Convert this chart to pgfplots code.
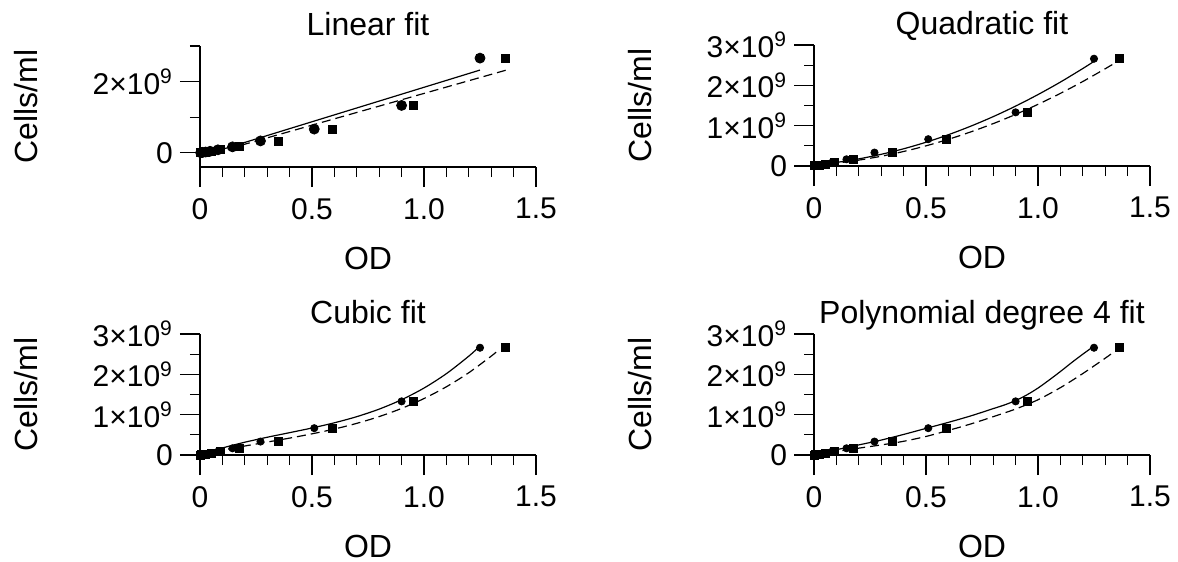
\documentclass[border=0pt]{standalone}
\usepackage{fontspec}
\setmainfont{Liberation Sans}
\usepackage{pgfplots}
\usepackage{pgfplotstable}
\pgfplotsset{compat=1.18}

% cells/ml in units of 10^9
\pgfplotstableread{
od cells
0.003 0.0026
0.006 0.0052
0.012 0.0104
0.025 0.021
0.045 0.042
0.080 0.083
0.145 0.166
0.270 0.333
0.510 0.665
0.900 1.33
1.250 2.66
}\circdata
\pgfplotstableread{
od cells
0.003 0.0026
0.007 0.0052
0.013 0.0104
0.026 0.021
0.050 0.042
0.093 0.083
0.175 0.166
0.350 0.333
0.590 0.665
0.953 1.33
1.365 2.66
}\sqdata

% fitted curves
\pgfplotstableread{
od cells
0.003 -0.091
1.250 2.324
}\linA
\pgfplotstableread{
od cells
0.003 -0.111
1.365 2.319
}\linB
\pgfplotstableread{
od cells
0.003 0.028
0.1 0.089
0.2 0.177
0.3 0.290
0.4 0.427
0.5 0.589
0.6 0.776
0.7 0.988
0.8 1.224
0.9 1.485
1.0 1.771
1.1 2.081
1.2 2.417
1.25 2.594
}\quadA
\pgfplotstableread{
od cells
0.003 0.021
0.1 0.072
0.2 0.146
0.3 0.242
0.4 0.360
0.5 0.500
0.6 0.662
0.7 0.846
0.8 1.051
0.9 1.279
1.0 1.529
1.1 1.801
1.2 2.095
1.3 2.411
1.34 2.543
}\quadB
\pgfplotstableread{
od cells
0.003 0.006
0.1 0.174
0.2 0.317
0.3 0.440
0.4 0.554
0.5 0.670
0.6 0.799
0.7 0.951
0.8 1.138
0.9 1.371
1.0 1.660
1.1 2.017
1.2 2.451
1.25 2.702
}\cubA
\pgfplotstableread{
od cells
0.003 0.004
0.1 0.118
0.2 0.223
0.3 0.321
0.4 0.419
0.5 0.525
0.6 0.644
0.7 0.785
0.8 0.953
0.9 1.155
1.0 1.400
1.1 1.692
1.2 2.040
1.3 2.451
1.33 2.590
}\cubB
\pgfplotstableread{
od cells
0.003 0.004
0.1 0.130
0.2 0.250
0.3 0.370
0.4 0.510
0.5 0.660
0.6 0.810
0.7 0.970
0.8 1.150
0.85 1.240
0.9 1.350
0.95 1.490
1.0 1.660
1.05 1.860
1.1 2.070
1.15 2.290
1.2 2.500
1.25 2.700
}\polA
\pgfplotstableread{
od cells
0.003 0.003
0.1 0.090
0.2 0.170
0.3 0.250
0.4 0.340
0.5 0.460
0.6 0.610
0.7 0.770
0.8 0.950
0.9 1.140
1.0 1.370
1.1 1.670
1.2 2.020
1.3 2.400
1.33 2.520
}\polB

\pgfplotsset{
  every axis title shift=0pt,
  panel/.style={
    scale only axis, width=168pt, height=60.5pt,
    xmin=0, xmax=1.5, ymin=0, ymax=3,
    clip=false,
    axis x line=bottom, axis y line=left,
    axis line style={-, line width=0.65pt},
    tick align=outside,
    major tick length=10pt, minor tick length=5pt,
    every tick/.style={black, line width=0.65pt},
    xtick={0,0.5,1,1.5}, xticklabels={0,0.5,1.0,1.5},
    minor xtick={0.1,0.2,0.3,0.4,0.6,0.7,0.8,0.9,1.1,1.2,1.3,1.4},
    ytick={0,1,2,3},
    yticklabels={0,1×10\textsuperscript{9},2×10\textsuperscript{9},3×10\textsuperscript{9}},
    minor ytick={0.5,1.5,2.5},
    tick label style={font=\fontsize{15}{18}\selectfont},
    xticklabel style={yshift=-2pt},
    xlabel={OD}, ylabel={Cells/ml},
    label style={font=\fontsize{16}{19}\selectfont},
    xlabel style={at={(axis description cs:0.5,-0.76)}, anchor=center},
    ylabel style={at={(axis description cs:-0.518,0.5)}, anchor=center},
    title style={font=\fontsize{16}{19}\selectfont, at={(axis description cs:0.5,1.09)}, anchor=base},
  },
  circ/.style={only marks, mark=*, mark size=1.8pt, black},
  sq/.style={only marks, mark=square*, mark size=2pt, black},
  fitA/.style={no marks, black, line width=0.6pt},
  fitB/.style={no marks, black, line width=0.6pt, dash pattern=on 4.5pt off 2.5pt},
}

\begin{document}
\begin{tikzpicture}
\useasboundingbox (0,0) rectangle (589pt,-281pt);

\begin{axis}[panel, at={(100pt,-83.5pt)}, anchor=south west,
    title={Linear fit}, ymin=-0.4, ytick={0,2},
    yticklabels={0,2×10\textsuperscript{9}}, minor ytick={1,3}]
  \addplot[fitA] table[x=od, y=cells] {\linA};
  \addplot[fitB] table[x=od, y=cells] {\linB};
  \addplot[circ, mark size=2.5pt] table[x=od, y=cells] {\circdata};
  \addplot[sq] table[x=od, y=cells] {\sqdata};
\end{axis}

\begin{axis}[panel, at={(407pt,-83pt)}, anchor=south west, title={Quadratic fit}]
  \addplot[fitA, smooth] table[x=od, y=cells] {\quadA};
  \addplot[fitB, smooth] table[x=od, y=cells] {\quadB};
  \addplot[circ] table[x=od, y=cells] {\circdata};
  \addplot[sq] table[x=od, y=cells] {\sqdata};
\end{axis}

\begin{axis}[panel, at={(100pt,-227.5pt)}, anchor=south west, title={Cubic fit}]
  \addplot[fitA, smooth] table[x=od, y=cells] {\cubA};
  \addplot[fitB, smooth] table[x=od, y=cells] {\cubB};
  \addplot[circ] table[x=od, y=cells] {\circdata};
  \addplot[sq] table[x=od, y=cells] {\sqdata};
\end{axis}

\begin{axis}[panel, at={(407pt,-227.5pt)}, anchor=south west, title={Polynomial degree 4 fit}]
  \addplot[fitA, smooth] table[x=od, y=cells] {\polA};
  \addplot[fitB, smooth] table[x=od, y=cells] {\polB};
  \addplot[circ] table[x=od, y=cells] {\circdata};
  \addplot[sq] table[x=od, y=cells] {\sqdata};
\end{axis}
\end{tikzpicture}
\end{document}
